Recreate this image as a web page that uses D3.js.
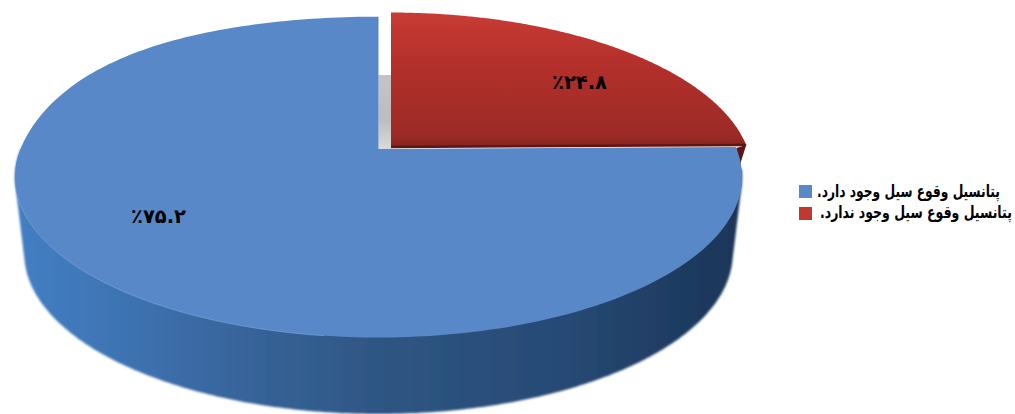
<!DOCTYPE html>
<html><head><meta charset="utf-8">
<script src="https://cdn.jsdelivr.net/npm/d3@7/dist/d3.min.js"></script>
<style>html,body{margin:0;padding:0;background:#fff;overflow:hidden}svg{display:block}
text{font-family:"DejaVu Sans",sans-serif;font-weight:bold;fill:#000}</style></head><body>
<script>
const categories = ["پتانسیل وقوع سیل وجود ندارد.", "پتانسیل وقوع سیل وجود دارد."];
const values = [24.8, 75.2];
const valueLabels = ["٪۲۴.۸", "٪۷۵.۲"];
const colors = ["#c0392f", "#5888c8"];
const legendOrder = [1, 0];

const W = 1015, H = 414;
const svg = d3.select("body").append("svg").attr("width", W).attr("height", H);
const defs = svg.append("defs");

function grad(id, x1, y1, x2, y2, stops) {
  const g = defs.append("linearGradient").attr("id", id)
    .attr("gradientUnits", "userSpaceOnUse")
    .attr("x1", x1).attr("y1", y1).attr("x2", x2).attr("y2", y2);
  stops.forEach(s => g.append("stop").attr("offset", s[0]).attr("stop-color", s[1]));
}
grad("sideBlue", 14, 0, 745, 0, [[0, "#437fc4"], [0.12, "#3f76b6"], [0.3, "#38659c"], [0.5, "#2f5683"], [0.75, "#274a75"], [0.93, "#1e3a5f"], [1, "#1c3557"]]);
grad("topRed", 0, 13, 0, 150, [[0, "#c83c33"], [0.35, "#b5302b"], [0.9, "#9b2a26"], [1, "#7d211e"]]);
grad("wall", 0, 75, 0, 150, [[0, "#c4c4c4"], [0.6, "#bdbdbd"], [1, "#dcdcdc"]]);
defs.append("filter").attr("id", "soft").attr("x", "-5%").attr("y", "-5%").attr("width", "110%").attr("height", "110%")
  .append("feGaussianBlur").attr("stdDeviation", 1.1);
defs.append("filter").attr("id", "soft2").attr("x", "-5%").attr("y", "-5%").attr("width", "110%").attr("height", "110%")
  .append("feGaussianBlur").attr("stdDeviation", 0.5);

// Perspective projection of the unit disc (angle clockwise from the back of the pie)
function projector(p) {
  return (a, r = 1) => {
    const u = r * Math.sin(a), v = r * Math.cos(a), w = 1 + p.k * v;
    const widen = v > 0 ? 1 + (p.flat || 0) * v * v : 1;
    return [p.cx + p.A * u * widen / w, p.cy - p.B * v / w];
  };
}
const k = 0.1713;
const blueTop = projector({cx: 378.5, cy: 149, A: 358, B: 155.5, k: 0.175, flat: 0.12});
const blueBot = projector({cx: 378.5, cy: 226, A: 349, B: 155.8, k});
const redTop  = projector({cx: 391, cy: 147, A: 356, B: 157.5, k});
const redBot  = projector({cx: 391, cy: 166, A: 350, B: 157.5, k});

const arcs = d3.pie().sort(null).value(d => d)(values);
const line = d3.line();
const TAU = Math.PI * 2;
const samples = (a0, a1, n = 240) => d3.range(n + 1).map(i => a0 + (a1 - a0) * i / n);
const rim = p => a => p(a);

const [redArc, blueArc] = arcs;

// Side wall of the blue slice: hull of the front parts of both rims
const front = samples(TAU * 0.27, TAU * 0.75);
const hull = d3.polygonHull([...front.map(rim(blueTop)), ...front.map(rim(blueBot))]);
svg.append("path").attr("filter", "url(#soft)")
  .attr("d", line(hull) + "Z")
  .attr("fill", "url(#sideBlue)");

// Inner wall visible through the gap
const apexB = blueTop(0, 0), apexR = redTop(0, 0);
svg.append("path").attr("filter", "url(#soft2)")
  .attr("d", line([[apexB[0], 75], [apexR[0], 75], [apexR[0], apexB[1]], [apexB[0], apexB[1]]]) + "Z")
  .attr("fill", "url(#wall)");

// Red slice: small outer wall, then top face
const tip = redTop(redArc.endAngle);
const tipLow = redBot(redArc.endAngle);
svg.append("path")
  .attr("d", line([[tip[0] - 10, tip[1] + 3], tip, tipLow]) + "Z")
  .attr("fill", "#5e1613");
svg.append("path")
  .attr("d", line([apexR, ...samples(redArc.startAngle, redArc.endAngle).map(rim(redTop))]) + "Z")
  .attr("fill", "url(#topRed)");
svg.append("path")
  .attr("d", line([apexR, tip]))
  .attr("stroke", "#5e1613").attr("stroke-width", 2.5).attr("fill", "none");

// Blue slice top face
svg.append("path").attr("filter", "url(#soft2)")
  .attr("d", line([apexB, ...samples(blueArc.startAngle, blueArc.endAngle).map(rim(blueTop))]) + "Z")
  .attr("fill", colors[1]);
svg.append("path")
  .attr("d", line(samples(TAU * 0.52, TAU * 0.73).map(rim(blueTop))))
  .attr("stroke", "#7ba6da").attr("stroke-width", 1).attr("fill", "none").attr("opacity", 0.7);

// Value labels
const labelPos = [[579.5, 82], [158.5, 216]];
svg.selectAll("text.val").data(valueLabels).join("text").attr("class", "val")
  .attr("x", (d, i) => labelPos[i][0]).attr("y", (d, i) => labelPos[i][1])
  .attr("text-anchor", "middle").attr("dominant-baseline", "central")
  .style("direction", "ltr").style("font-size", "19.5px").text(d => d);

// Legend: text squeezed horizontally to the reference's narrower Persian face
const legendWidth = [192, 183];
const legend = svg.selectAll("g.leg").data(legendOrder).join("g").attr("class", "leg")
  .attr("transform", (d, i) => `translate(799,${185 + i * 22})`);
legend.append("rect").attr("width", 13).attr("height", 13).attr("fill", d => colors[d]);
legend.append("text")
  .attr("dominant-baseline", "central")
  .style("direction", "rtl").attr("text-anchor", "end")
  .style("font-size", "17px").text(d => categories[d])
  .each(function(d) {
    const sx = legendWidth[d] / this.getComputedTextLength();
    d3.select(this).attr("transform", `translate(${d === 1 ? 18 : 21},5.5) scale(${sx},1)`);
  });
</script></body></html>
